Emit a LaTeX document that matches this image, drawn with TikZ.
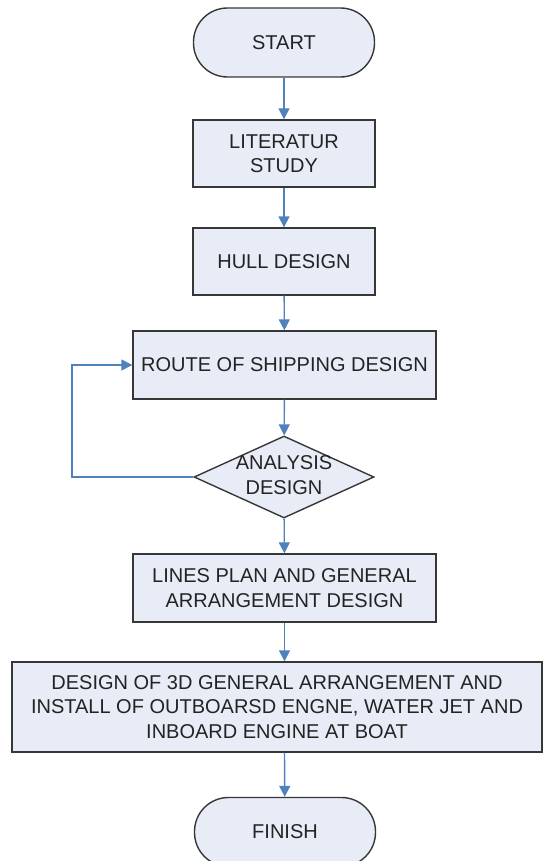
\documentclass[tikz,border=0pt]{standalone}
\usepackage{fontspec}
\setmainfont{Liberation Sans}
\usetikzlibrary{arrows.meta,shapes.geometric}
\definecolor{fillc}{RGB}{232,236,247}
\definecolor{linec}{RGB}{55,55,55}
\definecolor{arrowc}{RGB}{79,129,189}
\definecolor{textc}{RGB}{35,35,35}
\tikzset{
  base/.style={draw=linec, line width=1.4pt, fill=fillc, text=textc, align=center,
    font=\fontsize{20}{24.5}\selectfont, inner sep=0pt},
  term/.style={base, rounded corners=34pt, minimum width=181pt, minimum height=69pt},
  procbox/.style={base, rectangle, minimum height=68pt},
  decision/.style={base, diamond, minimum width=180pt, minimum height=82pt},
  flow/.style={draw=arrowc, line width=1.4pt, -{Triangle[width=11pt,length=11pt]}},
  lbl/.style={text=textc, align=center, font=\fontsize{20}{24.5}\selectfont, inner sep=0pt}
}
\begin{document}
\begin{tikzpicture}[x=1pt,y=-1pt]
\useasboundingbox (0,0) rectangle (544,861);
\node[term] (start) at (284,42.5) {START};
\node[procbox, minimum width=182pt, minimum height=67pt] (lit) at (284,153.5) {LITERATUR\\STUDY};
\node[procbox, minimum width=182pt, minimum height=67pt] (hull) at (284,261.5) {HULL DESIGN};
\node[procbox, minimum width=303pt] (route) at (284.5,365) {ROUTE OF SHIPPING DESIGN};
\node[decision] (ana) at (284,477) {};
\node[lbl] (analbl) at (284,475) {ANALYSIS\\DESIGN};
\node[procbox, minimum width=303pt] (lines) at (284.5,588) {LINES PLAN AND GENERAL\\ARRANGEMENT DESIGN};
\node[procbox, minimum width=530pt, minimum height=90pt] (des) at (277,707) {DESIGN OF 3D GENERAL ARRANGEMENT AND\\INSTALL OF OUTBOARSD ENGNE, WATER JET AND\\INBOARD ENGINE AT BOAT};
\node[term] (finish) at (285,832) {FINISH};
\coordinate (lb) at (72,477);
\coordinate (lt) at (72,365);
\draw[flow] (start) -- (lit);
\draw[flow] (lit) -- (hull);
\draw[flow] (hull) -- (route);
\draw[flow] (route) -- (ana);
\draw[flow] (ana) -- (lines);
\draw[flow] (lines) -- (lines |- des.north);
\draw[flow] (lines |- des.south) -- (finish);
\draw[flow] (ana.west) -- (lb) -- (lt) -- (route.west);
\end{tikzpicture}
\end{document}
